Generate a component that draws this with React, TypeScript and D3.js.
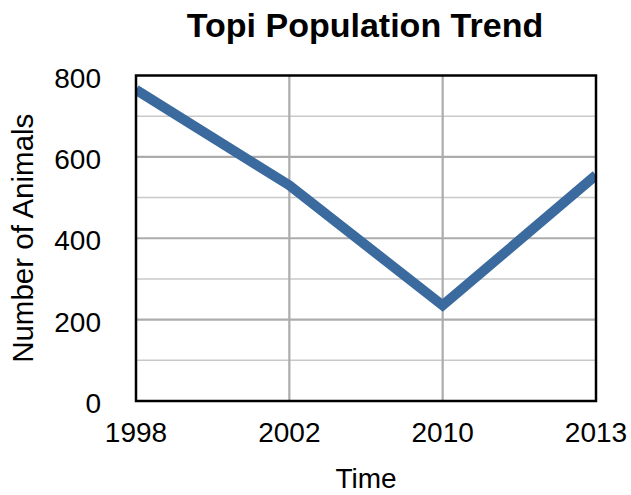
import React from "react";
import * as d3 from "d3";

const years = ["1998", "2002", "2010", "2013"];
const animals = [765, 530, 235, 555];
const yTicks = [0, 200, 400, 600, 800];
const yGrid = [100, 200, 300, 400, 500, 600, 700];

const W = 631;
const H = 495;
const left = 136;
const right = 596;
const top = 75.5;
const bottom = 401;
const FONT = "'Liberation Sans', Arial, Helvetica, sans-serif";

export default function App() {
  const x = d3.scalePoint<string>().domain(years).range([left, right]);
  const y = d3.scaleLinear().domain([0, 800]).range([bottom, top]);
  const line = d3
    .line<number>()
    .x((_, i) => x(years[i]) as number)
    .y((d) => y(d));

  return (
    <svg
      width={W}
      height={H}
      style={{ position: "absolute", left: 0, top: 0, background: "#fff" }}
      fontFamily={FONT}
    >
      <defs>
        <clipPath id="plot">
          <rect x={left} y={top} width={right - left} height={bottom - top} />
        </clipPath>
      </defs>
      <rect x={0} y={0} width={W} height={H} fill="#fff" />
      {yGrid.map((v) => {
        const major = v % 200 === 0;
        return (
          <line
            key={v}
            x1={left}
            x2={right}
            y1={y(v)}
            y2={y(v)}
            stroke={major ? "#acacac" : "#c9c9c9"}
            strokeWidth={major ? 2.2 : 1.6}
          />
        );
      })}
      {years.slice(1, -1).map((yr) => (
        <line
          key={yr}
          x1={x(yr)}
          x2={x(yr)}
          y1={top}
          y2={bottom}
          stroke="#acacac"
          strokeWidth={2.2}
        />
      ))}
      <path
        d={line(animals) || ""}
        fill="none"
        stroke="#3b6a9e"
        strokeWidth={10}
        strokeLinejoin="miter"
        clipPath="url(#plot)"
      />
      <rect
        x={left}
        y={top}
        width={right - left}
        height={bottom - top}
        fill="none"
        stroke="#000"
        strokeWidth={2.5}
      />
      {yTicks.map((v) => (
        <text
          key={v}
          x={101}
          y={y(v) + 12}
          textAnchor="end"
          fontSize={28}
          fill="#000"
        >
          {v}
        </text>
      ))}
      {years.map((yr) => (
        <text
          key={yr}
          x={x(yr)}
          y={442}
          textAnchor="middle"
          fontSize={28}
          fill="#000"
        >
          {yr}
        </text>
      ))}
      <text x={366} y={488} textAnchor="middle" fontSize={28} fill="#000">
        Time
      </text>
      <text
        transform={`translate(33, ${(top + bottom) / 2}) rotate(-90)`}
        textAnchor="middle"
        fontSize={29.5}
        fill="#000"
      >
        Number of Animals
      </text>
      <text
        x={365}
        y={37}
        textAnchor="middle"
        fontSize={34}
        fontWeight="bold"
        fill="#000"
      >
        Topi Population Trend
      </text>
    </svg>
  );
}
